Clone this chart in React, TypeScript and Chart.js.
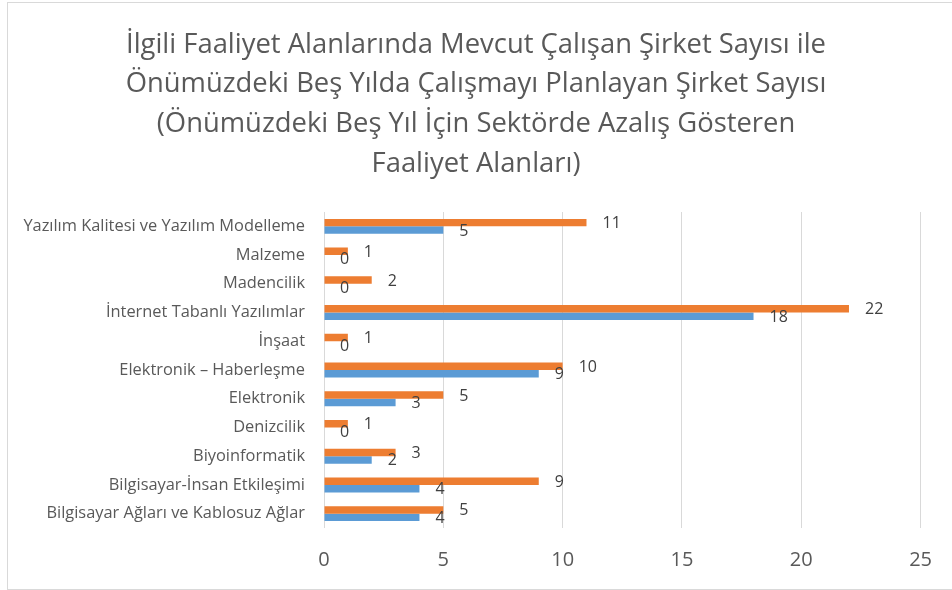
import React, { useEffect, useRef } from "react";
import { Chart, registerables } from "chart.js";

Chart.register(...registerables);

const titleLines = [
  "İlgili Faaliyet Alanlarında Mevcut Çalışan Şirket Sayısı ile",
  "Önümüzdeki Beş Yılda Çalışmayı Planlayan Şirket Sayısı",
  "(Önümüzdeki Beş Yıl İçin Sektörde Azalış Gösteren",
  "Faaliyet Alanları)",
];

const categories = [
  "Yazılım Kalitesi ve Yazılım Modelleme",
  "Malzeme",
  "Madencilik",
  "İnternet Tabanlı Yazılımlar",
  "İnşaat",
  "Elektronik – Haberleşme",
  "Elektronik",
  "Denizcilik",
  "Biyoinformatik",
  "Bilgisayar-İnsan Etkileşimi",
  "Bilgisayar Ağları ve Kablosuz Ağlar",
];

const plannedCompanies = [11, 1, 2, 22, 1, 10, 5, 1, 3, 9, 5];
const currentCompanies = [5, 0, 0, 18, 0, 9, 3, 0, 2, 4, 4];

const xMin = 0;
const xMax = 25;
const xStep = 5;

const FONT = '"Open Sans", sans-serif';

const titlePlugin = {
  id: "centeredTitle",
  afterDraw(chart: any) {
    const ctx = chart.ctx;
    ctx.save();
    ctx.font = `27.4px ${FONT}`;
    ctx.fillStyle = "#595959";
    ctx.textAlign = "center";
    ctx.textBaseline = "middle";
    titleLines.forEach((line, i) => {
      ctx.fillText(line, chart.width / 2, 45 + i * 39.7);
    });
    ctx.restore();
  },
};

const labelPlugin = {
  id: "barValueLabels",
  afterDatasetsDraw(chart: any) {
    const ctx = chart.ctx;
    ctx.save();
    ctx.font = `16px ${FONT}`;
    ctx.fillStyle = "#404040";
    ctx.textAlign = "left";
    ctx.textBaseline = "middle";
    chart.data.datasets.forEach((ds: any, di: number) => {
      const meta = chart.getDatasetMeta(di);
      meta.data.forEach((el: any, i: number) => {
        const v = ds.data[i];
        ctx.fillText(String(v), el.x + 16, el.y + 1);
      });
    });
    ctx.restore();
  },
};

function BarChart() {
  const ref = useRef<HTMLCanvasElement | null>(null);
  useEffect(() => {
    document.body.style.margin = "0";
    if (!ref.current) return;
    const chart = new Chart(ref.current, {
      type: "bar",
      data: {
        labels: categories,
        datasets: [
          {
            label: "Önümüzdeki Beş Yılda Çalışmayı Planlayan Şirket Sayısı",
            data: plannedCompanies,
            backgroundColor: "#ED7D31",
            categoryPercentage: 0.52,
            barPercentage: 1,
          },
          {
            label: "Mevcut Çalışan Şirket Sayısı",
            data: currentCompanies,
            backgroundColor: "#5B9BD5",
            categoryPercentage: 0.52,
            barPercentage: 1,
          },
        ],
      },
      options: {
        indexAxis: "y",
        animation: false,
        responsive: false,
        maintainAspectRatio: false,
        layout: { padding: { left: 0, right: 31, top: 212, bottom: 0 } },
        plugins: {
          legend: { display: false },
          tooltip: { enabled: false },
          title: { display: false },
        },
        scales: {
          x: {
            min: xMin,
            max: xMax,
            ticks: {
              stepSize: xStep,
              color: "#595959",
              font: { family: FONT, size: 20 },
              padding: 20,
            },
            grid: { color: "#d9d9d9", drawTicks: false, lineWidth: 1 },
            border: { display: false },
            afterFit: (scale: any) => {
              scale.height = 62;
            },
          },
          y: {
            ticks: {
              color: "#595959",
              font: { family: FONT, size: 16.4 },
              padding: 19,
            },
            grid: { display: false, drawTicks: false },
            border: { display: false },
            afterFit: (scale: any) => {
              scale.width = 324;
            },
          },
        },
      },
      plugins: [labelPlugin, titlePlugin],
    });
    return () => chart.destroy();
  }, []);
  return <canvas ref={ref} width={952} height={590} style={{ display: "block" }} />;
}

export default function App() {
  return (
    <div style={{ position: "relative", width: 952, height: 590, overflow: "hidden", background: "#fff" }}>
      <BarChart />
      <div
        style={{
          position: "absolute",
          left: 7,
          top: 2,
          width: 960,
          height: 588,
          border: "1px solid #d9d9d9",
          boxSizing: "border-box",
          pointerEvents: "none",
        }}
      />
    </div>
  );
}
